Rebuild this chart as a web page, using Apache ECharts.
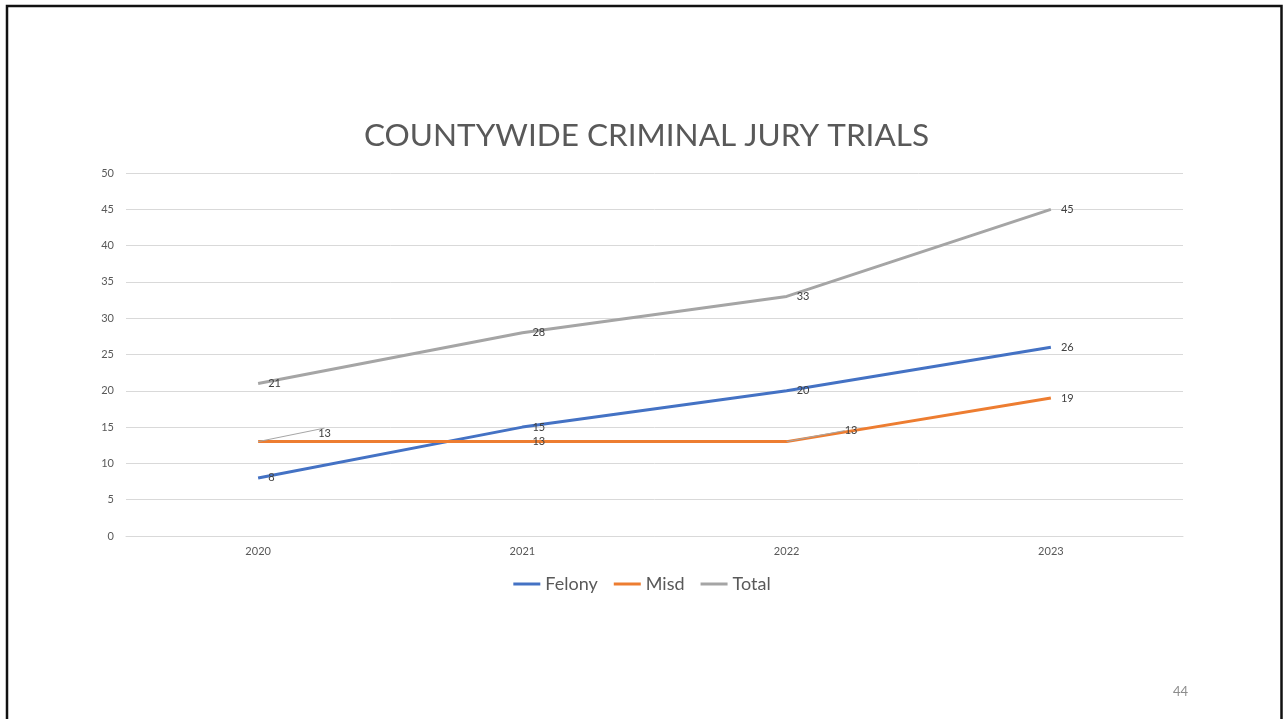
<!DOCTYPE html>
<html>
<head>
<meta charset="utf-8">
<script src="https://cdn.jsdelivr.net/npm/echarts@6/dist/echarts.min.js"></script>
<style>
  html, body { margin: 0; padding: 0; background: #fff; }
  #chart { width: 1284px; height: 719px; }
</style>
</head>
<body>
<div id="chart"></div>
<script>
// Yearly counts of criminal jury trials
const years = ['2020', '2021', '2022', '2023'];
const felony = [8, 15, 20, 26];
const misd = [13, 13, 13, 19];
const total = [21, 28, 33, 45];
const yTicks = [0, 5, 10, 15, 20, 25, 30, 35, 40, 45, 50];

const FONT = 'Lato, "Open Sans", "Liberation Sans", sans-serif';

// moved: dataIndex -> [dx, dy] for labels pulled off the line with a leader line
function lineSeries(name, values, color, moved) {
  return {
    name: name,
    type: 'line',
    data: values.map(function (v, i) {
      return moved[i] ? { value: v, labelLine: { show: true } } : { value: v };
    }),
    symbol: 'circle',
    showSymbol: true,
    symbolSize: 0,
    lineStyle: { color: color, width: 3 },
    itemStyle: { color: color },
    label: {
      show: true,
      position: 'right',
      distance: 10,
      color: '#404040',
      fontSize: 11,
      fontFamily: FONT
    },
    labelLine: {
      show: false,
      lineStyle: { color: '#a6a6a6', width: 1 }
    },
    labelLayout: function (p) {
      const m = moved[p.dataIndex];
      return m ? { dx: m[0], dy: m[1] } : {};
    }
  };
}

const chart = echarts.init(document.getElementById('chart'));
chart.setOption({
  animation: false,
  backgroundColor: '#ffffff',
  title: {
    text: 'COUNTYWIDE CRIMINAL JURY TRIALS',
    left: 359,
    top: 115,
    textStyle: { color: '#595959', fontSize: 31.5, fontWeight: 'normal', fontFamily: FONT }
  },
  legend: {
    data: ['Felony', 'Misd', 'Total'],
    left: 'center',
    top: 570,
    icon: 'rect',
    itemWidth: 27,
    itemHeight: 3,
    itemGap: 16,
    textStyle: { color: '#595959', fontSize: 18, fontFamily: FONT }
  },
  grid: { left: 126, right: 101, top: 173, bottom: 183, containLabel: false },
  xAxis: {
    type: 'category',
    data: years,
    boundaryGap: true,
    axisLine: { show: true, lineStyle: { color: '#d9d9d9' } },
    axisTick: { show: false },
    axisLabel: { color: '#595959', fontSize: 11, margin: 10, fontFamily: FONT }
  },
  yAxis: {
    type: 'value',
    min: yTicks[0],
    max: yTicks[yTicks.length - 1],
    interval: 5,
    axisLine: { show: false },
    axisTick: { show: false },
    axisLabel: { color: '#595959', fontSize: 11, margin: 12, fontFamily: FONT },
    splitLine: { lineStyle: { color: '#d9d9d9', width: 1 } }
  },
  series: [
    lineSeries('Felony', felony, '#4472C4', {}),
    lineSeries('Misd', misd, '#ED7D31', { 0: [50, -8], 2: [48, -11] }),
    lineSeries('Total', total, '#A5A5A5', {})
  ],
  graphic: [
    {
      type: 'polyline',
      shape: { points: [[7, 730], [7, 6], [1281.5, 6], [1281.5, 730]] },
      style: { stroke: '#111111', lineWidth: 2.5, fill: null },
      silent: true
    },
    {
      type: 'text',
      left: 1173,
      top: 685,
      style: { text: '44', fill: '#8c8c8c', fontSize: 13, fontFamily: FONT }
    }
  ]
});
</script>
</body>
</html>
